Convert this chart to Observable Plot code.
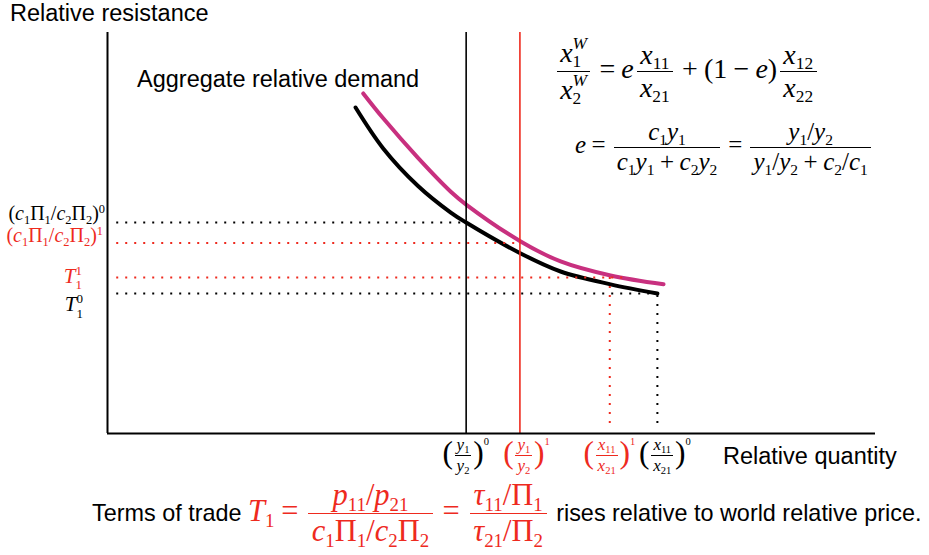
<!DOCTYPE html>
<html><head><meta charset="utf-8">
<script src="https://cdn.jsdelivr.net/npm/d3@7"></script>
<script src="https://cdn.jsdelivr.net/npm/@observablehq/plot@0.6"></script>
<style>
html,body{margin:0;padding:0;background:#fff;}
#wrap{position:relative;width:929px;height:555px;overflow:hidden;}
#wrap svg{position:absolute;left:0;top:0;}
.t{position:absolute;white-space:nowrap;line-height:1;font-family:"Liberation Sans",Arial,Helvetica,sans-serif;font-size:23.5px;color:#000;}
.m{font-family:"Liberation Serif","Times New Roman",serif;}
.m i{font-style:italic;}
.frac{display:inline-flex;flex-direction:column;align-items:center;vertical-align:middle;margin:0 0.1em;}
.frac>span{display:block;padding:0 0.12em;line-height:1.15;}
.frac>.den{border-top:1.4px solid currentColor;}
sub{font-size:0.62em;vertical-align:-0.3em;line-height:0;}
sup{font-size:0.62em;vertical-align:0.6em;line-height:0;}
.ss{display:inline-flex;flex-direction:column;font-size:0.62em;line-height:1.05;vertical-align:0.75em;}
.op{margin:0 0.22em;}
.red{color:#ee2a1e;}
.bp{display:inline-block;font-size:1.85em;line-height:1;vertical-align:middle;position:relative;top:-0.09em;}
.tsup{font-size:0.62em;vertical-align:14px;line-height:0;}
</style>
</head><body>
<div id="wrap"></div>
<script>
// ---- data (abstract 0..100 units) ----
const demand0X = [32.3, 35.9, 40.4, 44.7, 46.7, 53.8, 59.0, 65.5, 71.6];
const demand0Y = [81.3, 71.1, 61.8, 55.1, 52.6, 44.9, 40.4, 37.2, 34.9];
const demand1X = [33.3, 35.9, 40.4, 44.7, 46.7, 53.8, 59.0, 65.5, 72.4];
const demand1Y = [84.8, 78.6, 68.8, 60.3, 57.1, 47.9, 42.9, 39.4, 37.2];

// solid vertical lines: relative income (y1/y2) in period 0 and 1
const incomeX = [46.7, 53.7];
const incomePeriod = ["0", "1"];
// dotted vertical lines: relative quantity (x11/x21) in period 1 and 0
const quantityX = [65.4, 71.6];
const quantityTop = [39.6, 34.9];
const quantityPeriod = ["1", "0"];
// dotted horizontal lines: (c1Π1/c2Π2)^0, (c1Π1/c2Π2)^1, T1^1, T1^0
const levelY = [52.6, 47.5, 38.9, 34.9];
const levelEnd = [46.7, 53.7, 67.7, 71.6];
const levelPeriod = ["0", "1", "1", "0"];
const levelKind = ["c", "c", "T", "T"];

const periods = ["0", "1"];
const periodColors = ["#000000", "#ee2a1e"];

// ---- build tables ----
const d0 = demand0X.map((x, i) => ({x, y: demand0Y[i]}));
const d1 = demand1X.map((x, i) => ({x, y: demand1Y[i]}));
const solid = incomeX.map((x, i) => ({x, period: incomePeriod[i]}));
const dotV = quantityX.map((x, i) => ({x, top: quantityTop[i], period: quantityPeriod[i]}));
const dotH = levelY.map((y, i) => ({y, end: levelEnd[i], period: levelPeriod[i], kind: levelKind[i]}));

const plot = Plot.plot({
  width: 929, height: 555,
  marginLeft: 107, marginRight: 54, marginTop: 32, marginBottom: 122,
  x: {domain: [0, 100], axis: null},
  y: {domain: [0, 100], axis: null},
  color: {domain: periods, range: periodColors},
  style: {background: "transparent", overflow: "visible"},
  marks: [
    Plot.line(d0, {x: "x", y: "y", stroke: "#000", strokeWidth: 4, curve: "catmull-rom"}),
    Plot.line(d1, {x: "x", y: "y", stroke: "#c8307f", strokeWidth: 4, curve: "catmull-rom"}),
    Plot.ruleY(dotH, {y: "y", x1: 1.2, x2: "end", stroke: "period", strokeWidth: 2, strokeDasharray: "2 7"}),
    Plot.ruleX(dotV, {x: "x", y1: 2.5, y2: "top", stroke: "period", strokeWidth: 2, strokeDasharray: "2 7"}),
    Plot.ruleX(solid, {x: "x", y1: 0, y2: 100, stroke: "period", strokeWidth: 1.6}),
    Plot.ruleX([0], {y1: 0, y2: 100, stroke: "#000", strokeWidth: 2}),
    Plot.ruleY([0], {x1: 0, x2: 100, stroke: "#000", strokeWidth: 2})
  ]
});
const wrap = document.getElementById("wrap");
wrap.appendChild(plot);
const sx = plot.scale("x"), sy = plot.scale("y");
const px = v => sx.apply(v), py = v => sy.apply(v);

// ---- text placement helper ----
function place(html, cls, o) {
  const el = document.createElement("div");
  el.className = "t " + cls;
  if (o.size) el.style.fontSize = o.size + "px";
  el.innerHTML = html;
  el.style.left = "0px"; el.style.top = "0px";
  wrap.appendChild(el);
  const r = el.getBoundingClientRect();
  let ref;
  if (o.bar != null) {
    ref = el.querySelector(".den").getBoundingClientRect().top - r.top;
  } else {
    const mk = document.createElement("span");
    mk.style.cssText = "display:inline-block;width:0;height:0;vertical-align:baseline";
    el.insertBefore(mk, el.firstChild);
    ref = mk.getBoundingClientRect().top - r.top;
    mk.remove();
  }
  const y = o.bar != null ? o.bar : o.base;
  const left = o.left != null ? o.left : (o.right != null ? o.right - r.width : o.cx - r.width / 2);
  el.style.left = left + "px";
  el.style.top = (y - ref) + "px";
  return el;
}
const frac = (n, d) => `<span class="frac"><span class="num">${n}</span><span class="den">${d}</span></span>`;
const op = s => `<span class="op">${s}</span>`;

// axis titles and curve label
place("Relative resistance", "", {left: 10, base: 20.5});
place("Aggregate relative demand", "", {left: 137, base: 86.5});
place("Relative quantity", "", {left: 723, base: 464});

// top-right formulas
place(
  frac(`<i>x</i><span class="ss"><i>W</i><span>1</span></span>`, `<i>x</i><span class="ss"><i>W</i><span>2</span></span>`) +
  op("=") + `<i>e</i>` + frac(`<i>x</i><sub>11</sub>`, `<i>x</i><sub>21</sub>`) + op("+") +
  `(1${op("−")}<i>e</i>)` + frac(`<i>x</i><sub>12</sub>`, `<i>x</i><sub>22</sub>`),
  "m", {left: 554, bar: 71, size: 28});
place(
  `<i>e</i>` + op("=") + frac(`<i>c</i><sub>1</sub><i>y</i><sub>1</sub>`, `<i>c</i><sub>1</sub><i>y</i><sub>1</sub>${op("+")}<i>c</i><sub>2</sub><i>y</i><sub>2</sub>`) +
  op("=") + frac(`<i>y</i><sub>1</sub>/<i>y</i><sub>2</sub>`, `<i>y</i><sub>1</sub>/<i>y</i><sub>2</sub>${op("+")}<i>c</i><sub>2</sub>/<i>c</i><sub>1</sub>`),
  "m", {left: 575, bar: 146.5, size: 25});

// left level labels
const levelDy = [-2, -0.5, 5.5, 18];
const levelRight = [105, 103, 82, 83];
dotH.forEach((d, i) => {
  const html = d.kind === "c"
    ? `(<i>c</i><sub>1</sub>Π<sub>1</sub>/<i>c</i><sub>2</sub>Π<sub>2</sub>)<sup>${d.period}</sup>`
    : `<i>T</i><span class="ss" style="vertical-align:0.6em;line-height:1.1"><span>${d.period}</span><span>1</span></span>`;
  place(html, "m" + (d.period === "1" ? " red" : ""), {right: levelRight[i], base: py(d.y) + levelDy[i], size: d.kind === "c" ? 20 : 21});
});

// bottom tick labels
const tickDx = [0, 7, 0, 8];
const ticks = [
  {x: incomeX[0], p: incomePeriod[0], n: `<i>y</i><sub>1</sub>`, d: `<i>y</i><sub>2</sub>`},
  {x: incomeX[1], p: incomePeriod[1], n: `<i>y</i><sub>1</sub>`, d: `<i>y</i><sub>2</sub>`},
  {x: quantityX[0], p: quantityPeriod[0], n: `<i>x</i><sub>11</sub>`, d: `<i>x</i><sub>21</sub>`},
  {x: quantityX[1], p: quantityPeriod[1], n: `<i>x</i><sub>11</sub>`, d: `<i>x</i><sub>21</sub>`}
];
ticks.forEach((t, i) => {
  place(`<span class="bp">(</span>${frac(t.n, t.d)}<span class="bp">)</span><span class="tsup">${t.p}</span>`,
    "m" + (t.p === "1" ? " red" : ""), {cx: px(t.x) + tickDx[i], bar: 455, size: 17});
});

// caption
place(`Terms of trade <span class="m red" style="font-size:30.5px"><i>T</i><sub>1</sub>${op("=")}` +
  frac(`<i>p</i><sub>11</sub>/<i>p</i><sub>21</sub>`, `<i>c</i><sub>1</sub>Π<sub>1</sub>/<i>c</i><sub>2</sub>Π<sub>2</sub>`) +
  op("=") + frac(`<i>τ</i><sub>11</sub>/Π<sub>1</sub>`, `<i>τ</i><sub>21</sub>/Π<sub>2</sub>`) +
  `</span> rises relative to world relative price.`, "", {left: 92, bar: 513, size: 23.4});
</script>
</body></html>
